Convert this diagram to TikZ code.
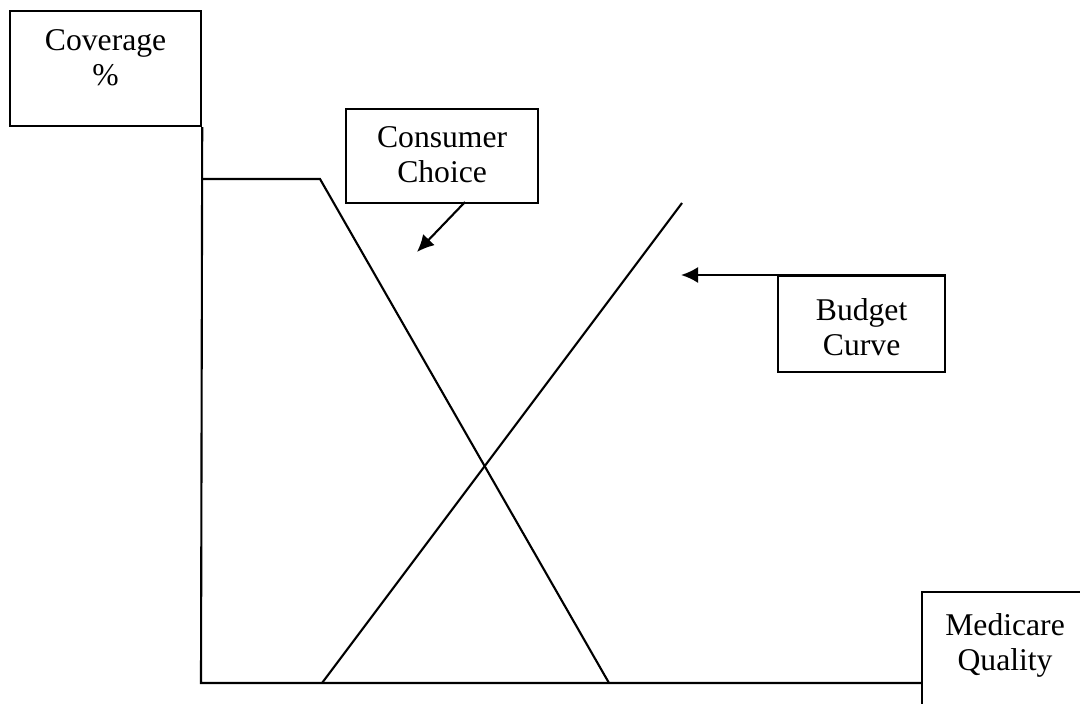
\documentclass[tikz,border=0pt]{standalone}
\usepackage{fontspec}
\setmainfont{Liberation Serif}
\usetikzlibrary{positioning,calc,arrows.meta}

\begin{document}
\begin{tikzpicture}[
    x=0.01cm, y=-0.01cm,
    line width=0.6pt,
    box/.style={rectangle, draw, line width=0.6pt, inner sep=0pt, anchor=north west},
    boxtext/.style={anchor=north, align=center, inner sep=0pt, font=\fontsize{9}{10.2}\selectfont},
    pointer/.style={-{Latex[length=1.7mm, width=1.6mm]}}
]
    \clip (0,0) rectangle (1080,704);

    % Text boxes
    \node[box, minimum width=1.91cm, minimum height=1.15cm] (cov) at (9,10) {};
    \node[boxtext, below=1.8mm of cov.north] (covtext) {Coverage\\\%};
    \node[box, minimum width=1.92cm, minimum height=0.94cm] (cc) at (345,108) {};
    \node[boxtext, below=1.7mm of cc.north] (cctext) {Consumer\\Choice};
    \node[box, minimum width=1.67cm, minimum height=0.96cm] (bc) at (777,275) {};
    \node[boxtext, below=2.2mm of bc.north] (bctext) {Budget\\Curve};
    \node[box, minimum width=2.0cm, minimum height=1.4cm] (med) at (921,591) {};
    \node[boxtext, below=2.1mm of med.north west, xshift=0.84cm] (medtext) {Medicare\\Quality};

    % Axes
    \coordinate (o) at (201,683);
    \draw (cov.south east) -- (o) -- (o -| med.west);

    % Consumer choice curve
    \coordinate (cctop) at (201,179);
    \coordinate (ccknee) at (320,179);
    \coordinate (ccend) at (609,683);
    \draw (cctop) -- (ccknee) -- (ccend);

    % Budget curve
    \coordinate (bcstart) at (322,683);
    \coordinate (bcend) at (682,203);
    \draw (bcstart) -- (bcend);

    % Pointers
    \coordinate (ccfoot) at (465,202);
    \coordinate (cctip) at (417,252);
    \draw[pointer] (ccfoot) -- (cctip);
    \coordinate (bctip) at (681,275);
    \draw[pointer] (bc.north east) -- (bctip);
\end{tikzpicture}
\end{document}
